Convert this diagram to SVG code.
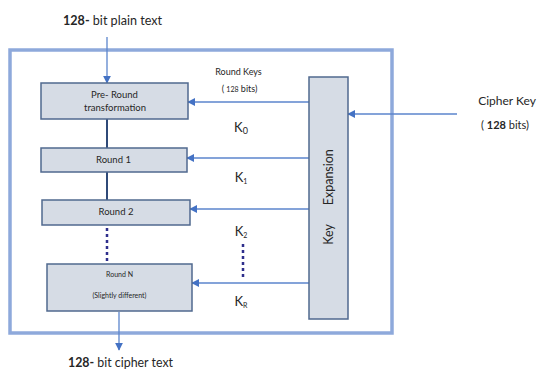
<svg xmlns="http://www.w3.org/2000/svg" width="544" height="369" viewBox="0 0 544 369">
  <defs>
    <style>
      .lbl { font-family: Lato, "Open Sans", "Liberation Sans", sans-serif; fill: #262626; }
      .box { fill: #D6DCE5; stroke: #50698F; stroke-width: 1.5; }
      .arr { stroke: #5B85CC; stroke-width: 1.3; fill: none; }
      .link { stroke: #2F4A78; stroke-width: 2; fill: none; }
      .dots { stroke: #2E2E8C; stroke-width: 2.5; stroke-dasharray: 3 3; fill: none; }
    </style>
    <marker id="ah" viewBox="0 0 10 10" refX="9" refY="5" markerWidth="8" markerHeight="8" markerUnits="userSpaceOnUse" orient="auto">
      <path d="M0,0 L10,5 L0,10 z" fill="#4472C4"/>
    </marker>
  </defs>

  <rect width="544" height="369" fill="#FFFFFF"/>

  <!-- outer frame of the cipher -->
  <rect x="10" y="50" width="382" height="283" fill="none" stroke="#8EA9DB" stroke-width="3.5"/>

  <!-- connectors -->
  <g id="connectors">
    <line class="arr" x1="107" y1="37" x2="107" y2="83" marker-end="url(#ah)"/>
    <line class="link" x1="107" y1="119" x2="107" y2="148"/>
    <line class="link" x1="107" y1="172" x2="107" y2="200"/>
    <line class="dots" x1="107" y1="228" x2="107" y2="264"/>
    <line class="arr" x1="119" y1="312" x2="119" y2="350" marker-end="url(#ah)"/>
    <line class="arr" x1="309" y1="102" x2="188" y2="102" marker-end="url(#ah)"/>
    <line class="arr" x1="309" y1="158" x2="187" y2="158" marker-end="url(#ah)"/>
    <line class="arr" x1="309" y1="209" x2="190" y2="209" marker-end="url(#ah)"/>
    <line class="arr" x1="309" y1="283" x2="192" y2="283" marker-end="url(#ah)"/>
    <line class="arr" x1="457" y1="114" x2="348" y2="114" marker-end="url(#ah)"/>
    <line class="dots" x1="243" y1="244" x2="243" y2="278"/>
  </g>

  <!-- rounds -->
  <g id="pre-round">
    <rect class="box" x="41" y="83" width="147" height="36"/>
    <text class="lbl" x="114.5" y="98" font-size="9.5" text-anchor="middle">Pre- Round</text>
    <text class="lbl" x="115" y="111" font-size="9.5" text-anchor="middle">transformation</text>
  </g>
  <g id="round-1">
    <rect class="box" x="41" y="148" width="146" height="24"/>
    <text class="lbl" x="113.5" y="163" font-size="9.5" text-anchor="middle">Round 1</text>
  </g>
  <g id="round-2">
    <rect class="box" x="42" y="200" width="148" height="25"/>
    <text class="lbl" x="116" y="215" font-size="9.5" text-anchor="middle">Round 2</text>
  </g>
  <g id="round-n">
    <rect class="box" x="47" y="264" width="145" height="47"/>
    <text class="lbl" x="119.5" y="277" font-size="7" text-anchor="middle">Round N</text>
    <text class="lbl" x="119.5" y="298" font-size="7" text-anchor="middle">(Slightly different)</text>
  </g>

  <!-- key schedule -->
  <g id="key-expansion">
    <rect class="box" x="309" y="77" width="39" height="242"/>
    <text class="lbl" transform="translate(333,197) rotate(-90)" font-size="12.5" text-anchor="middle" xml:space="preserve">Key      Expansion</text>
  </g>

  <!-- labels -->
  <g id="labels">
    <text class="lbl" x="63" y="25" font-size="13.5" textLength="99" lengthAdjust="spacingAndGlyphs"><tspan font-weight="bold">128-</tspan> bit plain text</text>
    <text class="lbl" x="68" y="367" font-size="13.5" textLength="105" lengthAdjust="spacingAndGlyphs"><tspan font-weight="bold">128-</tspan> bit cipher text</text>
    <text class="lbl" x="238.5" y="75" font-size="9" text-anchor="middle">Round Keys</text>
    <text class="lbl" x="239.5" y="92" font-size="9" text-anchor="middle">( <tspan font-size="7">128</tspan>  bits)</text>
    <text class="lbl" x="507" y="105" font-size="12" text-anchor="middle">Cipher Key</text>
    <text class="lbl" x="505" y="129" font-size="11" text-anchor="middle">( <tspan font-weight="bold">128</tspan> bits)</text>
    <text class="lbl" x="241" y="132" font-size="13" text-anchor="middle">K<tspan font-size="9" dy="2">0</tspan></text>
    <text class="lbl" x="241" y="182" font-size="13" text-anchor="middle">K<tspan font-size="7" dy="2">1</tspan></text>
    <text class="lbl" x="241" y="236" font-size="13" text-anchor="middle">K<tspan font-size="7" dy="2">2</tspan></text>
    <text class="lbl" x="241" y="306" font-size="13" text-anchor="middle">K<tspan font-size="7" dy="2">R</tspan></text>
  </g>
</svg>
